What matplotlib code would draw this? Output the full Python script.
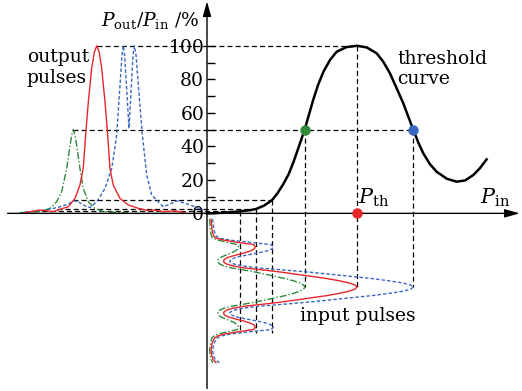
import numpy as np
import matplotlib
matplotlib.use('Agg')
import matplotlib.pyplot as plt

plt.rcParams['font.family'] = 'DejaVu Serif'
plt.rcParams['mathtext.fontset'] = 'dejavuserif'

# threshold curve: P_in / P_th  vs  P_out / P_in (%)
thr_p = [0, 0.05, 0.10, 0.15, 0.22, 0.287, 0.327, 0.38, 0.433, 0.47, 0.509, 0.545,
         0.576, 0.615, 0.653, 0.68, 0.709, 0.74, 0.776, 0.82, 0.864, 0.93, 1.0,
         1.065, 1.131, 1.175, 1.22, 1.265, 1.309, 1.345, 1.376, 1.41, 1.442,
         1.485, 1.531, 1.6, 1.664, 1.72, 1.776, 1.82, 1.864]
thr_t = [0, 0.1, 0.3, 0.6, 1.2, 1.9, 2.6, 4.6, 7.8, 12, 17.5, 23.5,
         30.5, 40.5, 50.5, 59, 68, 76.5, 84.5, 91.5, 96.4, 99.2, 100,
         99, 95.5, 90.5, 83.5, 74.5, 65.6, 57, 49.7, 42, 35.8,
         29.5, 24.8, 20.6, 18.9, 19.6, 22.9, 27, 32.2]

# normalised input pulse shape (time, power / peak power)
in_t = [-1.60, -1.50, -1.40, -1.30, -1.20, -1.15, -1.10, -1.05, -1.00, -0.95,
        -0.90, -0.85, -0.80, -0.75, -0.70, -0.65, -0.60, -0.55, -0.50, -0.45,
        -0.40, -0.35, -0.30, -0.25, -0.20, -0.15, -0.10, -0.05, 0.0,
        0.05, 0.10, 0.15, 0.20, 0.25, 0.30, 0.35, 0.40, 0.45, 0.50,
        0.55, 0.60, 0.65, 0.70, 0.75, 0.80, 0.85, 0.90, 0.95, 1.00,
        1.05, 1.10, 1.15, 1.20, 1.30, 1.40, 1.50, 1.60, 1.70, 1.78]
in_s = [0.027, 0.03, 0.032, 0.036, 0.045, 0.06, 0.12, 0.21, 0.31, 0.322,
        0.315, 0.29, 0.245, 0.19, 0.14, 0.115, 0.11, 0.125, 0.17, 0.25,
        0.38, 0.50, 0.60, 0.70, 0.80, 0.88, 0.945, 0.986, 1.0,
        0.986, 0.945, 0.88, 0.80, 0.70, 0.60, 0.50, 0.38, 0.25, 0.17,
        0.125, 0.11, 0.115, 0.14, 0.19, 0.245, 0.29, 0.315, 0.322, 0.31,
        0.21, 0.12, 0.07, 0.05, 0.036, 0.03, 0.028, 0.03, 0.04, 0.06]
peaks = {'green': 0.653, 'red': 1.0, 'blue': 1.376}

# output pulses (time, %)
red_u = [-12.13, -11.8, -11.13, -10.25, -9.6, -9.25, -8.8, -8.47, -8.25, -8.09,
         -7.91, -7.69, -7.51, -7.35, -7.19, -7.02, -6.8, -6.62, -6.47, -6.25,
         -5.8, -5.25, -4.58, -3.91, -3.6, -2.91, -2.13, -1.47]
red_o = [0.5, 1.0, 2.0, 1.0, 3.0, 3.9, 8.9, 16.9, 26.8, 46.7,
         66.6, 86.5, 96.2, 100, 96.2, 86.5, 66.6, 46.7, 26.8, 16.9,
         8.9, 5.0, 3.0, 1.6, 2.0, 1.0, 1.4, 0.5]
green_u = [-12.47, -11.8, -11.13, -10.47, -10.02, -9.69, -9.35, -9.13, -9.0, -8.91,
           -8.82, -8.69, -8.47, -8.25, -7.91, -7.47, -6.91, -5.8, -5.13]
green_o = [0.4, 0.8, 1.0, 3.0, 6.9, 12.9, 26.8, 40.7, 47.3, 50,
           47.3, 40.7, 26.8, 14.9, 6.9, 3.0, 1.0, 0.4, 0.2]
blue_u = [-12.13, -10.69, -9.8, -9.25, -8.91, -8.58, -8.02, -7.8, -7.35, -6.8,
          -6.35, -6.02, -5.8, -5.67, -5.58, -5.49, -5.2, -4.93, -4.85, -4.73,
          -4.58, -4.31, -4.02, -3.69, -2.91, -2.47, -2.02, -1.6, -1.13, -0.25]
blue_o = [0.6, 2.0, 3.9, 5.5, 7.5, 6.9, 3.9, 3.5, 6.9, 14.9,
          26.8, 46.7, 76.5, 94.4, 100, 94.4, 50.7, 94.4, 100, 94.4,
          76.5, 46.7, 22.9, 10.9, 3.9, 5.5, 7.5, 6.4, 5.0, 2.0]

# guide lines: side-lobe levels and main levels
side_p = [0.22, 0.327, 0.433]
side_t = [1.2, 2.6, 7.8]
side_u = [-11.5, -10.0, -8.9]
main_p = [0.653, 1.0, 1.376]
main_t = [50, 100, 50]
main_u = [-8.91, -7.35, -8.91]

colors = {'red': '#e8262a', 'green': '#2f8a3a', 'blue': '#3a68c0'}


def out_x(u):
    return np.asarray(u) * 0.1


def in_y(t):
    return -44.0 - 25.36 * np.asarray(t)


fig = plt.figure(figsize=(5.22, 3.91), dpi=100)
ax = fig.add_axes([0, 0, 1, 1])
ax.set_xlim(-1.38, 2.1)
ax.set_ylim(-106.0, 127.3)

# axes through the origin
for s in ['top', 'right', 'bottom']:
    ax.spines[s].set_visible(False)
ax.spines['left'].set_position(('data', 0))
ax.spines['left'].set_color('none')
ax.set_xticks([])
ax.set_yticks([0, 20, 40, 60, 80, 100])
ax.set_yticks(np.arange(10, 100, 10), minor=True)
ax.tick_params(axis='y', which='both', direction='in', length=6, width=1,
               labelsize=13.5, pad=2)
ax.annotate('', xy=(0, 126.5), xytext=(0, -104.5),
            arrowprops=dict(arrowstyle='-|>,head_length=0.9,head_width=0.25',
                            lw=1, color='black', shrinkA=0, shrinkB=0))
ax.annotate('', xy=(2.085, 0), xytext=(-1.33, 0),
            arrowprops=dict(arrowstyle='-|>,head_length=0.9,head_width=0.25',
                            lw=1, color='black', shrinkA=0, shrinkB=0))

dash = dict(color='black', lw=0.9, dashes=(4, 2.5))
# side-lobe guide lines
for p, t, u in zip(side_p, side_t, side_u):
    ax.plot([out_x(u), p], [t, t], **dash)
    ax.plot([p, p], [t, in_y(1.08)], **dash)
# main guide lines
for p, t, u in zip(main_p, main_t, main_u):
    ax.plot([p, p], [t, in_y(0)], **dash)
ax.plot([out_x(main_u[1]), main_p[1]], [100, 100], **dash)
ax.plot([out_x(main_u[0]), main_p[2]], [50, 50], **dash)

# threshold curve
ax.plot(thr_p, thr_t, color='black', lw=1.8)

styles = {'green': dict(dashes=(5, 1.5, 1, 1.5)), 'red': dict(linestyle='-'),
          'blue': dict(dashes=(2.5, 1.5))}

# input pulses
for name in ['green', 'blue', 'red']:
    ax.plot(peaks[name] * np.asarray(in_s), in_y(in_t), color=colors[name],
            lw=1.0, **styles[name])

# output pulses
ax.plot(out_x(green_u), green_o, color=colors['green'], lw=1.0, **styles['green'])
ax.plot(out_x(blue_u), blue_o, color=colors['blue'], lw=1.0, **styles['blue'])
ax.plot(out_x(red_u), red_o, color=colors['red'], lw=1.0, **styles['red'])

# operating points
ax.plot(main_p[0], 50, 'o', color=colors['green'], ms=6.5, zorder=5)
ax.plot(main_p[2], 50, 'o', color=colors['blue'], ms=6.5, zorder=5)
ax.plot(main_p[1], 0, 'o', color=colors['red'], ms=6.5, zorder=5, clip_on=False)

# labels
ax.text(-0.05, 115.3, r'$P_{\rm out}/P_{\rm in}$ /%', fontsize=13.5, ha='right', va='center')
ax.text(1.01, 9.5, r'$P_{\rm th}$', fontsize=15, ha='left', va='center')
ax.text(1.82, 9.5, r'$P_{\rm in}$', fontsize=15, ha='left', va='center')
ax.text(1.27, 86, 'threshold\ncurve', fontsize=13.5, ha='left', va='center',
        linespacing=1.15)
ax.text(-1.2, 87, 'output\npulses', fontsize=13.5, ha='left', va='center',
        linespacing=1.15)
ax.text(0.62, -61.3, 'input pulses', fontsize=13.5, ha='left', va='center')

fig.savefig('out.png', dpi=100)
